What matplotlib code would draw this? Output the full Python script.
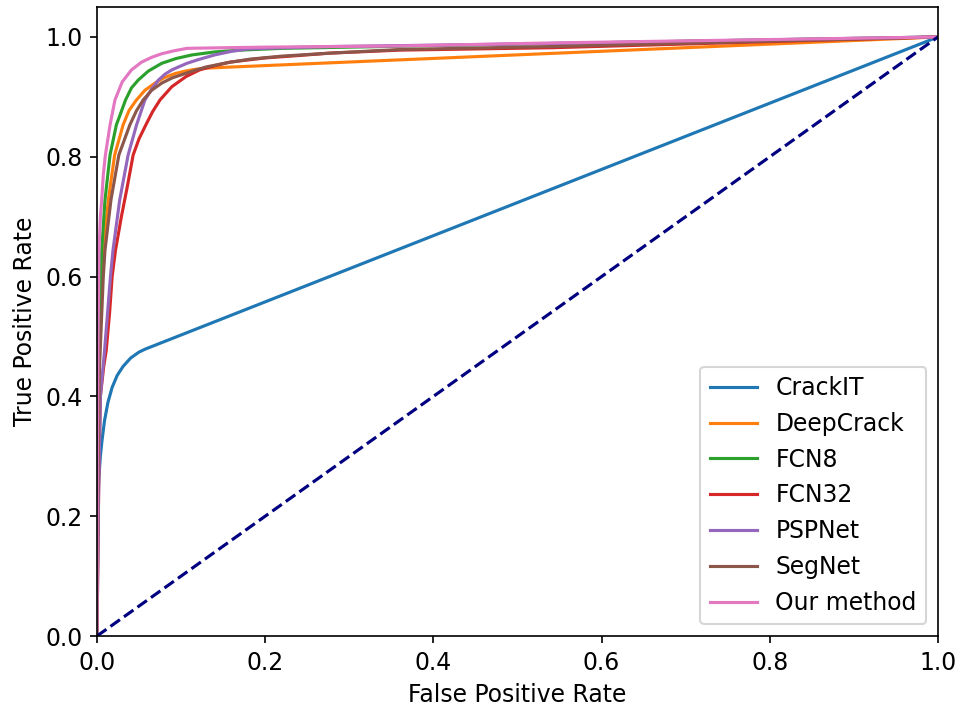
import matplotlib
matplotlib.use("Agg")
import matplotlib.pyplot as plt

plt.rcParams['font.size'] = 11.3

# ROC points
crackit_fpr = [0, 0.001, 0.002, 0.004, 0.006, 0.009, 0.013, 0.018, 0.024, 0.031, 0.040, 0.050, 0.0575, 1.0]
crackit_tpr = [0, 0.20, 0.26, 0.30, 0.327, 0.36, 0.39, 0.415, 0.435, 0.450, 0.464, 0.474, 0.479, 1.0]

deepcrack_fpr = [0, 0.001, 0.0025, 0.0062, 0.0075, 0.0135, 0.021, 0.031, 0.038, 0.047, 0.057, 0.069,
                 0.080, 0.093, 0.105, 0.117, 0.13, 1.0]
deepcrack_tpr = [0, 0.30, 0.45, 0.60, 0.644, 0.728, 0.803, 0.853, 0.877, 0.895, 0.911, 0.923,
                 0.932, 0.939, 0.943, 0.946, 0.948, 1.0]

fcn8_fpr = [0, 0.001, 0.002, 0.0045, 0.0056, 0.0095, 0.0155, 0.023, 0.034, 0.041, 0.049, 0.061,
            0.077, 0.094, 0.113, 0.14, 0.17, 0.22, 0.3, 0.54, 1.0]
fcn8_tpr = [0, 0.30, 0.45, 0.60, 0.644, 0.728, 0.803, 0.853, 0.895, 0.915, 0.928, 0.943,
            0.956, 0.964, 0.970, 0.975, 0.978, 0.981, 0.983, 0.989, 1.0]

fcn32_fpr = [0, 0.002, 0.004, 0.008, 0.011, 0.015, 0.018, 0.022, 0.029, 0.036, 0.043, 0.050, 0.058,
             0.066, 0.075, 0.089, 0.106, 0.122, 0.14, 0.158, 0.2, 0.24, 0.277, 0.36, 0.54, 1.0]
fcn32_tpr = [0, 0.25, 0.40, 0.45, 0.477, 0.54, 0.60, 0.644, 0.70, 0.75, 0.803, 0.830, 0.853,
             0.875, 0.895, 0.917, 0.934, 0.945, 0.952, 0.958, 0.965, 0.969, 0.973, 0.978, 0.982, 1.0]

pspnet_fpr = [0, 0.002, 0.004, 0.009, 0.016, 0.019, 0.027, 0.037, 0.047, 0.057, 0.065, 0.073, 0.081,
              0.089, 0.097, 0.107, 0.12, 0.14, 0.16, 0.18, 0.22, 0.277, 0.54, 1.0]
pspnet_tpr = [0, 0.25, 0.40, 0.477, 0.60, 0.644, 0.728, 0.803, 0.853, 0.895, 0.913, 0.928, 0.938,
              0.945, 0.950, 0.956, 0.962, 0.970, 0.976, 0.980, 0.982, 0.984, 0.989, 1.0]

segnet_fpr = [0, 0.0015, 0.003, 0.0075, 0.0095, 0.0166, 0.026, 0.039, 0.047, 0.055, 0.065, 0.077,
              0.090, 0.105, 0.118, 0.13, 0.155, 0.182, 0.22, 0.277, 0.36, 0.54, 1.0]
segnet_tpr = [0, 0.30, 0.45, 0.60, 0.644, 0.728, 0.803, 0.853, 0.877, 0.895, 0.911, 0.923,
              0.932, 0.939, 0.945, 0.950, 0.957, 0.963, 0.968, 0.973, 0.979, 0.984, 1.0]

ours_fpr = [0, 0.0005, 0.0012, 0.0024, 0.004, 0.0056, 0.0075, 0.010, 0.0155, 0.0214, 0.030, 0.041,
            0.053, 0.065, 0.077, 0.092, 0.107, 0.15, 0.2, 0.36, 0.54, 1.0]
ours_tpr = [0, 0.30, 0.50, 0.644, 0.70, 0.728, 0.77, 0.803, 0.853, 0.895, 0.925, 0.945,
            0.958, 0.966, 0.972, 0.977, 0.981, 0.982, 0.983, 0.985, 0.990, 1.0]

curves = [
    ("CrackIT", crackit_fpr, crackit_tpr),
    ("DeepCrack", deepcrack_fpr, deepcrack_tpr),
    ("FCN8", fcn8_fpr, fcn8_tpr),
    ("FCN32", fcn32_fpr, fcn32_tpr),
    ("PSPNet", pspnet_fpr, pspnet_tpr),
    ("SegNet", segnet_fpr, segnet_tpr),
    ("Our method", ours_fpr, ours_tpr),
]

fig = plt.figure(figsize=(6.4, 4.74), dpi=150)
ax = fig.add_axes([97 / 960, 1 - 636 / 711, (938 - 97) / 960, (636 - 7) / 711])

for name, fpr, tpr in curves:
    ax.plot(fpr, tpr, label=name)

# chance line
ax.plot([0, 1], [0, 1], color='navy', linestyle='--')

ax.set_xlim(0.0, 1.0)
ax.set_ylim(0.0, 1.05)
ax.set_xlabel("False Positive Rate")
ax.set_ylabel("True Positive Rate")
ax.legend(loc="lower right")

fig.savefig("out.png", dpi=150)
